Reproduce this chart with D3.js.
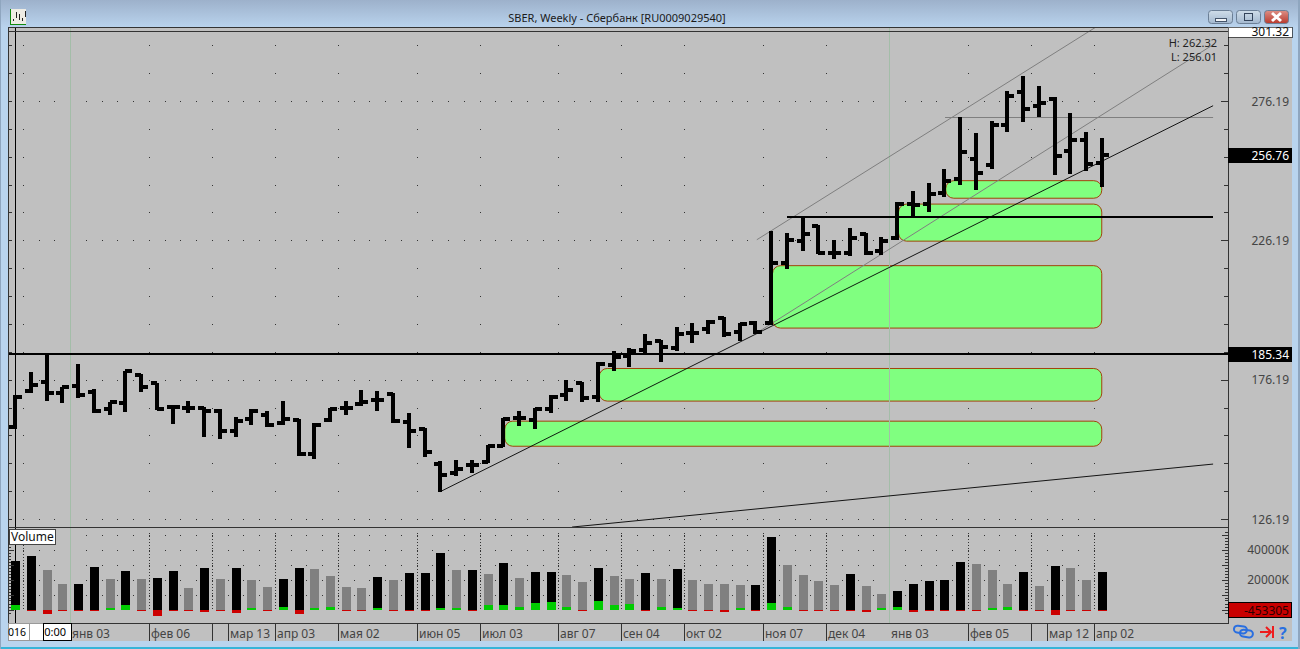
<!DOCTYPE html>
<html>
<head>
<meta charset="utf-8">
<script src="https://cdn.jsdelivr.net/npm/d3@7"></script>
<style>
html,body{margin:0;padding:0;background:#b9d4ee;overflow:hidden}
svg{display:block}
text{font-family:"Noto Sans",sans-serif;font-size:12px}
</style>
</head>
<body>
<svg id="c" width="1300" height="649"></svg>
<script>
const opens = [159.1,172.2,175.3,171.5,173.8,171.7,165.6,167.7,177.9,174.9,166.3,165.9,166.2,165.1,157.9,162,163.4,160.6,161.7,149.4,161.6,165.9,167.4,168.9,171,160.9,158.4,145.8,142.6,145.6,146.8,152.5,162.4,161.7,165.8,170.8,174.9,169.9,181.4,184.6,186.9,190.1,187.5,192.9,194.3,198.3,193.4,196.7,196.5,218,226,231.4,221.6,221.6,228.5,222.2,227,239.3,239.3,243.3,248.2,255.3,253.3,267.4,279.4,274.5,276.9,258.4,262.3,254.1];
const highs = [170.7,178.9,185.1,173.7,181.7,173,168.3,179.4,178.1,175.1,167,168.5,166.3,165.8,162.9,165.8,165.1,168.5,162,160.6,165.9,168.5,172.4,172,171.3,164.1,159,147,147.4,147.3,152.8,162.6,164.9,166.2,170.7,176.1,175.3,182.7,186.4,187.5,192.6,190.5,195,196.5,197.6,198.6,196.5,197.3,229.6,228.8,234.2,231.7,226.4,230.6,229,227.3,239.9,244,246.7,251.9,270.4,264.7,269,279.6,285.2,281.6,277.6,271.8,265,262.9];
const lows = [158.4,171.3,168.7,167.7,169.5,164.1,163.4,164.5,171.7,165.2,160.2,164.1,155.7,155,155.7,159.8,159.3,159.8,148.7,147.6,160.9,163.4,166.7,164.9,160.6,151.6,148.4,136,141.6,142.8,146.2,152,159.7,158.6,164.1,168.7,168.1,168.3,179.2,180.9,185.7,182.7,186.4,189.3,192.6,191.6,190,192.6,195.8,215.8,222.2,221.2,219.4,220.4,221.1,221,226.4,235.1,236.2,241.7,245.9,244.1,251.9,264.9,268.5,270.4,249.8,250.1,250.9,245.5];
const closes = [170.1,174.3,171.5,173.7,170.7,164.9,168.1,179.2,173.5,165.8,166.3,165.9,165.1,157.9,161.5,165.1,160.1,162,149.4,159.9,165.6,165.9,168.1,168.9,161.3,157.7,150.4,142,144,145.6,152.4,162.1,162.4,165.7,170.1,172.5,169.5,181.8,184.5,186.6,189.3,187.8,192.6,192.9,197,192.6,196.2,193.3,218,226.4,228.5,221.6,221.6,227,221.6,225.8,239.3,238.9,242.9,247.6,257.8,250.5,267.4,278,273.4,275.4,256.6,262.3,253.6,256.76];
const volumes = [32200,35500,26200,16900,16900,28200,20200,25600,20200,20900,25600,14200,27600,20200,27600,19600,14900,20200,27600,26900,22200,14900,14200,21600,19600,24200,24200,37600,26200,26200,23600,30900,20900,24900,24900,22900,18200,27600,22200,20200,24200,20200,26900,19600,16900,16800,16200,16200,48200,29600,22900,18900,16200,23600,15600,10200,12200,16900,18900,19600,31600,30200,26200,16900,24900,15600,28900,27600,19600,24900];
const deltas = [2900,-1100,-3100,-1100,-500,-1100,900,2900,-1100,-4400,-500,-500,-1800,-1100,-2400,900,-1100,1600,-3100,900,1600,-500,-500,900,-500,-1100,-1100,900,900,-1100,2900,2900,1600,4200,4900,1600,-500,5600,2900,3600,-500,1600,900,-500,-500,-1800,900,-1100,4200,1600,-500,-500,-1100,-1100,-1800,900,1600,-1800,-1100,-500,-500,-1100,900,1600,-500,-1100,-3800,-1100,-1100,-500];

const priceTickLabels = [126.19,176.19,226.19,276.19];
const volumeTickLabels = [20000,40000];
const dateLabels = [["янв 03",4],["фев 06",9],["мар 13",14],["апр 03",17],["мая 02",21],["июн 05",26],["июл 03",30],["авг 07",35],["сен 04",39],["окт 02",43],["ноя 07",48],["дек 04",52],["янв 03",56],["фев 05",61],["мар 12",66],["апр 02",69]];
const monthStarts = [1,9,13,17,21,26,30,35,39,43,48,52,61,65,69];
const separators = [9,13,14,17,21,26,30,35,39,43,48,52,61,65,66,69];
const lightLines = [4,56];
// zones: start bar, end bar, upper price, lower price
const zones = [[31,69,161.3,152.3],[37,69,180.2,168.5],[48,69,217.1,194.7],[56,69,239.2,225.9],[59,69,247.6,241.3]];
// lines: bar, price, bar, price
const trendBlack = [[27,136,76.07,274.5],[35.37,123.3,76.07,145.9]];
const trendGray = [[47.3,193.7,76.07,296.4],[47.1,226.4,68.57,302.5]];
const levelBlack = [[49,234.4,76.07]];
const levelGray = [[59.05,270.3,76.07]];
const lastLevel = 185.34, lastClose = 256.76, topPrice = 301.32, lastDelta = "-453305";
const title = "SBER, Weekly - Сбербанк [RU0009029540]";

const svg = d3.select("#c").attr("shape-rendering","crispEdges");
const x = d3.scaleLinear().domain([0,69]).range([15,1101.75]);
const y = d3.scaleLinear().domain([126.19,276.19]).range([519,101]);
const yv = d3.scaleLinear().domain([0,40000]).range([609.5,549.5]);
const edge = k => Math.round(x(k-0.5));
const n = opens.length;
const L=8, R=1228, T=27, PB=527, B=623;

// window chrome
const defs = svg.append("defs");
const g1 = defs.append("linearGradient").attr("id","tb").attr("x2",0).attr("y2",1);
g1.append("stop").attr("offset",0).attr("stop-color","#9db1cb");
g1.append("stop").attr("offset",1).attr("stop-color","#bad4ee");
const g2 = defs.append("linearGradient").attr("id","btn").attr("x2",0).attr("y2",1);
g2.append("stop").attr("offset",0).attr("stop-color","#cfdde9");
g2.append("stop").attr("offset",1).attr("stop-color","#a3b8cf");
const g3 = defs.append("linearGradient").attr("id","cls").attr("x2",0).attr("y2",1);
g3.append("stop").attr("offset",0).attr("stop-color","#dd8f85");
g3.append("stop").attr("offset",1).attr("stop-color","#b83a2e");

svg.append("rect").attr("width",1300).attr("height",649).attr("fill","#b9d4ee");
svg.append("rect").attr("width",1300).attr("height",28).attr("fill","url(#tb)");
svg.append("rect").attr("y",647).attr("width",1300).attr("height",2).attr("fill","#37b4d8");
svg.append("rect").attr("x",1298).attr("width",2).attr("height",649).attr("fill","#8fa6bf");
svg.append("rect").attr("x",0).attr("width",1).attr("height",649).attr("fill","#8fa6bf");
svg.append("text").attr("x",617).attr("y",22).attr("text-anchor","middle").style("font-size","11px").attr("fill","#1a1a1a").text(title);

// app icon
const icon = svg.append("g");
icon.append("rect").attr("x",10).attr("y",9).attr("width",16).attr("height",15).attr("fill","#eeece4");
icon.append("path").attr("d","M10.5 9V24H26").attr("fill","none").attr("stroke","#0f8a0f");
icon.append("path").attr("d","M13 21v-2M16 18v-6M19 20v-6M22 21v-3M25 17v-6").attr("fill","none").attr("stroke","#222");

// window buttons
[[1208,"url(#btn)"],[1236,"url(#btn)"],[1264,"url(#cls)"]].forEach(b=>{
  svg.append("rect").attr("x",b[0]+.5).attr("y",10.5).attr("width",24).attr("height",13).attr("rx",3).attr("fill",b[1]).attr("stroke","#6b7f96").attr("shape-rendering","auto");
});
svg.append("rect").attr("x",1215).attr("y",18).attr("width",11).attr("height",3).attr("fill","#f2f5f8").attr("stroke","#44546a");
svg.append("rect").attr("x",1244.5).attr("y",13.5).attr("width",8).attr("height",7).attr("fill","none").attr("stroke","#33435a").attr("stroke-width",1.5);
svg.append("path").attr("d","M1272 13l9 8M1281 13l-9 8").attr("stroke","#fff").attr("stroke-width",3).attr("shape-rendering","auto");

// panel
svg.append("rect").attr("x",L).attr("y",T).attr("width",1292-L).attr("height",641-T).attr("fill","#c0c0c0");
svg.append("rect").attr("x",1292).attr("y",T).attr("width",6).attr("height",614).attr("fill","#b9d4ee");
const line=(x1,y1,x2,y2,c,w)=>svg.append("line").attr("x1",x1).attr("y1",y1).attr("x2",x2).attr("y2",y2).attr("stroke",c).attr("stroke-width",w||1);

// dot grid - price pane
const dots = svg.append("g").attr("fill","#333");
const priceDots = d3.range(126.19,310,10).map(p=>Math.round(y(p)));
const priceRows = d3.range(126.19,310,50).map(p=>Math.round(y(p)));
monthStarts.forEach(k=>priceDots.forEach(py=>{ if(py>33&&py<525) dots.append("rect").attr("x",edge(k)).attr("y",py).attr("width",1).attr("height",1); }));
priceRows.forEach(py=>d3.range(1,70).forEach(k=>{ if(py>33) dots.append("rect").attr("x",edge(k)).attr("y",py).attr("width",1).attr("height",1); }));
// dot grid - volume pane
d3.range(10000,60000,10000).forEach(v=>d3.range(1,70).forEach(k=>{
  dots.append("rect").attr("x",edge(k)).attr("y",Math.round(yv(v))).attr("width",1).attr("height",1);
}));
monthStarts.forEach(k=>d3.range(533,610,3).forEach(py=>dots.append("rect").attr("x",edge(k)).attr("y",py).attr("width",1).attr("height",1)));

// zones
svg.append("g").selectAll("rect").data(zones).join("rect")
  .attr("x",d=>x(d[0])+1.5).attr("width",d=>x(d[1])-x(d[0])-1.5)
  .attr("y",d=>y(d[2])).attr("height",d=>y(d[3])-y(d[2]))
  .attr("rx",8).attr("ry",8).attr("fill","#80ff80").attr("stroke","#a0440a").attr("shape-rendering","auto");

// light vertical lines
lightLines.forEach(k=>line(edge(k)+.5,T,edge(k)+.5,B,"#a3bda8"));

// gray trend lines
const tl = svg.append("g").attr("shape-rendering","auto");
trendGray.forEach(d=>tl.append("line").attr("x1",x(d[0])).attr("y1",y(d[1])).attr("x2",x(d[2])).attr("y2",y(d[3])).attr("stroke","#7f7f7f"));
levelGray.forEach(d=>tl.append("line").attr("x1",x(d[0])).attr("y1",Math.round(y(d[1]))+.5).attr("x2",x(d[2])).attr("y2",Math.round(y(d[1]))+.5).attr("stroke","#7f7f7f"));

// OHLC bars
const bars = svg.append("g").attr("fill","#000");
d3.range(n).forEach(i=>{
  const cx = Math.round(x(i));
  const yh = Math.round(y(highs[i])), yl = Math.round(y(lows[i]));
  bars.append("rect").attr("x",cx-2).attr("width",4).attr("y",yh).attr("height",yl-yh);
  bars.append("rect").attr("x",cx-6).attr("width",6).attr("y",Math.round(y(opens[i]))-2).attr("height",4);
  bars.append("rect").attr("x",cx).attr("width",7).attr("y",Math.round(y(closes[i]))-2).attr("height",4);
});
const tb = svg.append("g").attr("shape-rendering","auto");
trendBlack.forEach(d=>tb.append("line").attr("x1",x(d[0])).attr("y1",y(d[1])).attr("x2",x(d[2])).attr("y2",y(d[3])).attr("stroke","#000").attr("stroke-width",.9));
levelBlack.forEach(d=>line(x(d[0]),y(d[1]),x(d[2]),y(d[1]),"#000",2));
line(L,y(lastLevel),R,y(lastLevel),"#000",2);
line(15.5,T,15.5,B,"#000",1);

// Volume bars
const vb = svg.append("g");
vb.selectAll("rect.v").data(volumes).join("rect").attr("class","v")
  .attr("x",(d,i)=>Math.round(x(i))-4).attr("width",9)
  .attr("y",d=>yv(d)).attr("height",d=>yv(0)-yv(d))
  .attr("fill",(d,i)=>i===0||d>=volumes[i-1]?"#000":"#808080");
vb.selectAll("rect.d").data(deltas).join("rect").attr("class","d")
  .attr("x",(d,i)=>Math.round(x(i))-4).attr("width",9)
  .attr("y",d=>d>0?yv(d):yv(0)).attr("height",d=>Math.max(1,Math.abs(yv(d)-yv(0))))
  .attr("fill",d=>d>0?"#00cc00":"#cc0000");

// frames
svg.append("rect").attr("x",L+.5).attr("y",T+.5).attr("width",R-L).attr("height",B-T).attr("fill","none").attr("stroke","#333");
line(L,31.5,R,31.5,"#333");
line(L,PB+.5,R,PB+.5,"#333");

// side ticks
const ticks = svg.append("g").attr("stroke","#333");
d3.range(126.19,310,10).forEach(p=>{
  const py=Math.round(y(p))+.5; if(py<33||py>525) return;
  const len=(Math.round((p-126.19)/10)%5===0)?7:4;
  ticks.append("line").attr("x1",R-len).attr("x2",R).attr("y1",py).attr("y2",py);
  ticks.append("line").attr("x1",L).attr("x2",L+4).attr("y1",py).attr("y2",py);
});
d3.range(-2000,54000,2000).forEach(v=>{
  const py=Math.round(yv(v))+.5; const len=v%10000===0?6:3;
  ticks.append("line").attr("x1",R-len).attr("x2",R).attr("y1",py).attr("y2",py);
  ticks.append("line").attr("x1",L).attr("x2",L+len).attr("y1",py).attr("y2",py);
});

// axis labels
const lab = svg.append("g").attr("fill","#444");
priceTickLabels.forEach(p=>lab.append("text").attr("x",1289).attr("y",y(p)+4.5).attr("text-anchor","end").text(p.toFixed(2)));
volumeTickLabels.forEach(v=>lab.append("text").attr("x",1289).attr("y",yv(v)+4.5).attr("text-anchor","end").text(v+"K"));

// date axis
separators.forEach(k=>line(edge(k)+.5,B,edge(k)+.5,641,"#333"));
dateLabels.forEach(d=>lab.append("text").attr("x",edge(d[1])+2).attr("y",638).text(d[0]));
svg.append("rect").attr("x",8.5).attr("y",623.5).attr("width",21).attr("height",17).attr("fill","#fff").attr("stroke","#999");
svg.append("rect").attr("x",29.5).attr("y",623.5).attr("width",14).attr("height",17).attr("fill","#fff").attr("stroke","#999");
svg.append("rect").attr("x",43.5).attr("y",623.5).attr("width",28).attr("height",17).attr("fill","#fff").attr("stroke","#000");
svg.append("text").attr("x",26).attr("y",636).attr("text-anchor","end").attr("fill","#000").style("font-size","10.5px").text("016");
svg.append("text").attr("x",66).attr("y",636).attr("text-anchor","end").attr("fill","#000").style("font-size","11px").text("0:00");

// value tags
const tag=(yy,h,bg,fg,t,ty)=>{
  svg.append("rect").attr("x",R).attr("y",yy).attr("width",64).attr("height",h).attr("fill",bg);
  svg.append("text").attr("x",1289).attr("y",ty).attr("text-anchor","end").attr("fill",fg).text(t);
};
const cp3 = defs.append("clipPath").attr("id","cp3"); cp3.append("rect").attr("x",R).attr("y",T).attr("width",64).attr("height",10);
svg.append("rect").attr("x",R).attr("y",T).attr("width",64).attr("height",10).attr("fill","#fff").attr("stroke","#000").attr("stroke-width",.6);
svg.append("text").attr("x",1289).attr("y",36).attr("text-anchor","end").attr("clip-path","url(#cp3)").attr("fill","#111").text(topPrice.toFixed(2));
tag(Math.round(y(lastClose))-7,15,"#000","#fff",lastClose.toFixed(2),y(lastClose)+5);
tag(Math.round(y(lastLevel))-7,15,"#000","#fff",lastLevel.toFixed(2),y(lastLevel)+5);
svg.append("rect").attr("x",R+.5).attr("y",602.5).attr("width",63).attr("height",15).attr("fill","#c80000").attr("stroke","#000");
svg.append("text").attr("x",1289).attr("y",615).attr("text-anchor","end").attr("fill","#2a0000").text(lastDelta);

// H/L note
svg.append("text").attr("x",1217).attr("y",47).attr("text-anchor","end").attr("fill","#222").style("font-size","11px").text("H: 262.32");
svg.append("text").attr("x",1217).attr("y",61).attr("text-anchor","end").attr("fill","#222").style("font-size","11px").text("L: 256.01");

// Volume tag
svg.append("rect").attr("x",9.5).attr("y",529.5).attr("width",46).attr("height",15).attr("fill","#fff").attr("stroke","#444");
svg.append("text").attr("x",11).attr("y",541).attr("fill","#111").text("Volume");

// bottom-right icons
const ic = svg.append("g").attr("shape-rendering","auto").attr("fill","none");
ic.append("rect").attr("x",1234).attr("y",626).attr("width",13).attr("height",7).attr("rx",3.5).attr("stroke","#2a6fe0").attr("stroke-width",2).attr("transform","rotate(8 1240 629)");
ic.append("rect").attr("x",1240).attr("y",630).attr("width",13).attr("height",7).attr("rx",3.5).attr("stroke","#2a6fe0").attr("stroke-width",2).attr("transform","rotate(8 1246 633)");
ic.append("path").attr("d","M1260 632H1270M1266 627l5 5l-5 5M1273 626v12").attr("stroke","#ee1c1c").attr("stroke-width",2);
svg.append("text").attr("x",1279).attr("y",639).attr("fill","#2a6fe0").style("font-size","16px").style("font-weight","700").text("?");
</script>
</body>
</html>
